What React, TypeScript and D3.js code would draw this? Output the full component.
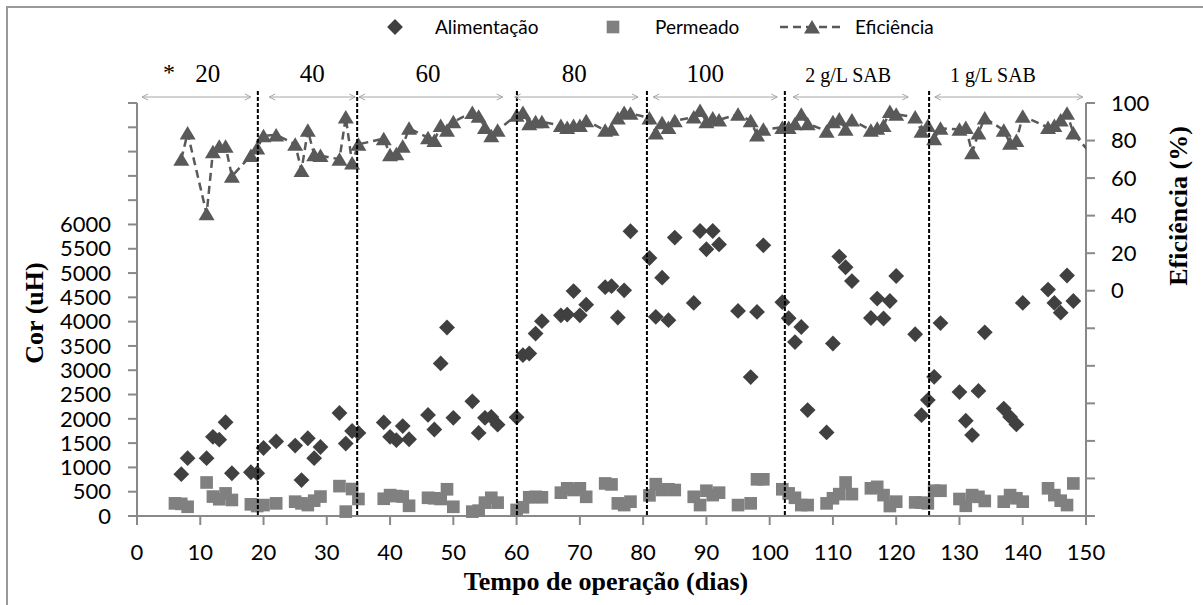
import * as d3 from "d3";

// [dia, valor]
const alimentacao: [number, number][] = [
  [7, 860], [8, 1190], [11, 1190], [12, 1630], [13, 1570], [14, 1930], [15, 880], [18, 900], [19, 880],
  [20, 1400], [22, 1535], [25, 1450], [26, 740], [27, 1600], [28, 1190], [29, 1420], [32, 2120], [33, 1490],
  [34, 1750], [35, 1710], [39, 1925], [40, 1630], [41, 1560], [42, 1850], [43, 1580], [46, 2080], [47, 1780],
  [48, 3140], [49, 3880], [50, 2020], [53, 2360], [54, 1710], [55, 2020], [56, 2040], [57, 1880], [60, 2030],
  [61, 3310], [62, 3345], [63, 3755], [64, 4010], [67, 4130], [68, 4145], [69, 4630], [70, 4130], [71, 4350],
  [74, 4710], [75, 4730], [76, 4085], [77, 4645], [78, 5860], [81, 5310], [82, 4100], [83, 4905], [84, 4030],
  [85, 5730], [88, 4385], [89, 5865], [90, 5490], [91, 5865], [92, 5590], [95, 4220], [97, 2860], [98, 4200],
  [99, 5570], [102, 4400], [103, 4070], [104, 3580], [105, 3890], [106, 2180], [109, 1720], [110, 3550],
  [111, 5340], [112, 5120], [113, 4835], [116, 4075], [117, 4475], [118, 4065], [119, 4425], [120, 4940],
  [123, 3740], [124, 2075], [125, 2385], [126, 2865], [127, 3970], [130, 2550], [131, 1960], [132, 1665],
  [133, 2575], [134, 3780], [137, 2210], [138, 2040], [139, 1885], [140, 4385], [144, 4660], [145, 4385],
  [146, 4185], [147, 4950], [148, 4425],
];

const permeado: [number, number][] = [
  [6, 260], [7, 250], [8, 190], [11, 690], [12, 400], [13, 345], [14, 465], [15, 330], [18, 240], [19, 205],
  [20, 225], [22, 260], [25, 295], [26, 260], [27, 225], [28, 315], [29, 400], [32, 615], [33, 90], [34, 555],
  [35, 350], [39, 355], [40, 430], [41, 410], [42, 400], [43, 210], [46, 375], [47, 365], [48, 350], [49, 550],
  [50, 190], [53, 90], [54, 110], [55, 275], [56, 375], [57, 275], [60, 125], [61, 180], [62, 385], [63, 395],
  [64, 385], [67, 480], [68, 570], [69, 535], [70, 570], [71, 395], [74, 670], [75, 650], [76, 260], [77, 225],
  [78, 295], [81, 425], [82, 655], [83, 535], [84, 550], [85, 535], [88, 395], [89, 225], [90, 520], [91, 430],
  [92, 480], [95, 225], [97, 260], [98, 755], [99, 755], [102, 550], [103, 465], [104, 375], [105, 225],
  [106, 225], [109, 260], [110, 365], [111, 450], [112, 690], [113, 450], [116, 570], [117, 600], [118, 430],
  [119, 205], [120, 295], [123, 280], [124, 275], [125, 260], [126, 520], [127, 520], [130, 350], [131, 210],
  [132, 430], [133, 395], [134, 310], [137, 295], [138, 430], [139, 365], [140, 295], [144, 570], [145, 430],
  [146, 315], [147, 225], [148, 670],
];

const eficiencia: [number, number][] = [
  [7, 70], [8, 84], [11, 41], [12, 74], [13, 77], [14, 77], [15, 61], [18, 72], [19, 76], [20, 82.5], [22, 83],
  [25, 78], [26, 64], [27, 85.5], [28, 72.5], [29, 72], [32, 70], [33, 92.5], [34, 68], [35, 78], [39, 81],
  [40, 72.5], [41, 73], [42, 77], [43, 86.5], [46, 81.5], [47, 80], [48, 88], [49, 85.5], [50, 90], [53, 95],
  [54, 93], [55, 87], [56, 82.5], [57, 85.5], [60, 93.5], [61, 95], [62, 89], [63, 90], [64, 90], [67, 88],
  [68, 87], [69, 88], [70, 88], [71, 90.5], [74, 85.5], [75, 86], [76, 92], [77, 95], [78, 94.5], [81, 92],
  [82, 84], [83, 89.5], [84, 87], [85, 90.5], [88, 92.5], [89, 96], [90, 90], [91, 92], [92, 91], [95, 94],
  [97, 90.5], [98, 83], [99, 86], [102, 87], [103, 87], [104, 89], [105, 94], [106, 89], [109, 85], [110, 90],
  [111, 91.5], [112, 86], [113, 91], [116, 85.5], [117, 86.5], [118, 88], [119, 95.5], [120, 94], [123, 92.5],
  [124, 85], [125, 88], [126, 81], [127, 86.5], [130, 86], [131, 87], [132, 73.5], [133, 84], [134, 92],
  [137, 85.5], [138, 78.5], [139, 80], [140, 93], [144, 87], [145, 88], [146, 91], [147, 94.5], [148, 84],
  [152, 68],
];

// phase boundaries (dias) and annotation arrows
const phaseLines = [19.1, 34.8, 60.05, 80.6, 102.4, 125.2];
const phaseArrows: [number, number][] = [
  [0.8, 18], [20.9, 34.5], [35.1, 57.8], [59.7, 79.2], [81.6, 101.2], [103.7, 121.9], [126.1, 149.5],
];
const phaseLabels = [
  { text: "20", day: 11.2, big: true },
  { text: "40", day: 27.7, big: true },
  { text: "60", day: 46, big: true },
  { text: "80", day: 69.1, big: true },
  { text: "100", day: 89.8, big: true },
  { text: "2 g/L SAB", day: 112.4, big: false },
  { text: "1 g/L SAB", day: 135.3, big: false },
];

const leftTicks = d3.range(0, 8501, 500);
const rightTicks = d3.range(-120, 101, 20);
const xTicks = d3.range(0, 151, 10);

const sans = "Lato, 'Open Sans', sans-serif";
const serif = "'Liberation Serif', 'Times New Roman', serif";
const axisColor = "#898989";
const tri = "M0,-7L8,6.5L-8,6.5Z";

export default function App() {
  const x = d3.scaleLinear().domain([0, 150]).range([137, 1086]);
  const yL = d3.scaleLinear().domain([0, 8500]).range([516, 103]);
  const yR = d3.scaleLinear().domain([-120, 100]).range([516, 103]);
  const effLine = d3
    .line<[number, number]>()
    .x((d) => x(d[0]))
    .y((d) => yR(d[1]));
  const diamond = d3.symbol().type(d3.symbolSquare).size(125)();
  const square = d3.symbol().type(d3.symbolSquare).size(160)();

  return (
    <svg width={1203} height={605} style={{ position: "absolute", left: 0, top: 0 }}>
      <defs>
        <clipPath id="plot">
          <rect x={x(0)} y={0} width={x(150) - x(0)} height={605} />
        </clipPath>
      </defs>
      <rect x={0} y={0} width={1203} height={605} fill="#fff" />
      <rect x={7} y={7} width={1300} height={700} fill="none" stroke="#999" strokeWidth={2} />

      {/* legend */}
      <g fontFamily={sans} fontSize={19} fill="#000">
        <path d={diamond} transform="translate(395,27) rotate(45)" fill="#404040" />
        <text x={435} y={27} dy="0.35em">Alimentação</text>
        <path d={square} transform="translate(613,27)" fill="#808080" />
        <text x={655} y={27} dy="0.35em">Permeado</text>
        <line x1={780} x2={845} y1={27} y2={27} stroke="#595959" strokeWidth={2.5} strokeDasharray="8,5" />
        <path d={tri} transform="translate(812,27)" fill="#595959" />
        <text x={855} y={27} dy="0.35em">Eficiência</text>
      </g>

      {/* left axis */}
      <line x1={137} x2={137} y1={yL(8500)} y2={yL(0)} stroke={axisColor} strokeWidth={2} />
      {leftTicks.map((t) => (
        <g key={"l" + t}>
          <line x1={128} x2={137} y1={yL(t)} y2={yL(t)} stroke={axisColor} strokeWidth={2} />
          {t <= 6000 && (
            <text x={111} y={yL(t)} dy="0.35em" textAnchor="end" fontFamily={sans} fontSize={22}>
              {t}
            </text>
          )}
        </g>
      ))}

      {/* right axis */}
      <line x1={1086} x2={1086} y1={yR(100)} y2={yR(-120)} stroke={axisColor} strokeWidth={2} />
      {rightTicks.map((t) => (
        <g key={"r" + t}>
          <line x1={1086} x2={1095} y1={yR(t)} y2={yR(t)} stroke={axisColor} strokeWidth={2} />
          {t >= 0 && (
            <text x={1111} y={yR(t)} dy="0.35em" fontFamily={sans} fontSize={22}>
              {t}
            </text>
          )}
        </g>
      ))}

      {/* x axis */}
      <line x1={x(0)} x2={x(150)} y1={516} y2={516} stroke={axisColor} strokeWidth={2} />
      {xTicks.map((t) => (
        <g key={"x" + t}>
          <line x1={x(t)} x2={x(t)} y1={516} y2={525} stroke={axisColor} strokeWidth={2} />
          <text x={x(t)} y={552} dy="0.35em" textAnchor="middle" fontFamily={sans} fontSize={22}>
            {t}
          </text>
        </g>
      ))}

      {/* series */}
      {alimentacao.map((d, i) => (
        <path key={"a" + i} d={diamond} transform={`translate(${x(d[0])},${yL(d[1])}) rotate(45)`} fill="#404040" />
      ))}
      {permeado.map((d, i) => (
        <path key={"p" + i} d={square} transform={`translate(${x(d[0])},${yL(d[1])})`} fill="#808080" />
      ))}
      <g clipPath="url(#plot)">
        <path d={effLine(eficiencia) || ""} fill="none" stroke="#595959" strokeWidth={2.5} strokeDasharray="8,5" />
        {eficiencia.map((d, i) => (
          <path key={"e" + i} d={tri} transform={`translate(${x(d[0])},${yR(d[1])})`} fill="#595959" />
        ))}
      </g>

      {/* phase boundaries */}
      {phaseLines.map((d) => (
        <line key={"v" + d} x1={x(d)} x2={x(d)} y1={91} y2={516} stroke="#000" strokeWidth={2} strokeDasharray="4,2" />
      ))}
      {phaseArrows.map(([a, b], i) => {
        const x1 = x(a);
        const x2 = x(b);
        return (
          <g key={"ar" + i} stroke="#a6a6a6" strokeWidth={1} fill="none">
            <line x1={x1} x2={x2} y1={97} y2={97} />
            <path d={`M${x1 + 6},${94}L${x1},97L${x1 + 6},${100}`} />
            <path d={`M${x2 - 6},${94}L${x2},97L${x2 - 6},${100}`} />
          </g>
        );
      })}
      <text x={169} y={80} textAnchor="middle" fontFamily={serif} fontSize={24}>*</text>
      {phaseLabels.map((p) => (
        <text key={p.text} x={x(p.day)} y={82} textAnchor="middle" fontFamily={serif} fontSize={p.big ? 25 : 20}>
          {p.text}
        </text>
      ))}

      {/* axis titles */}
      <text x={606} y={590} textAnchor="middle" fontFamily={serif} fontWeight="bold" fontSize={26}>
        Tempo de operação (dias)
      </text>
      <text transform="translate(43,313) rotate(-90)" textAnchor="middle" fontFamily={serif} fontWeight="bold" fontSize={26}>
        Cor (uH)
      </text>
      <text transform="translate(1187,206) rotate(-90)" textAnchor="middle" fontFamily={serif} fontWeight="bold" fontSize={26}>
        Eficiência (%)
      </text>
    </svg>
  );
}
